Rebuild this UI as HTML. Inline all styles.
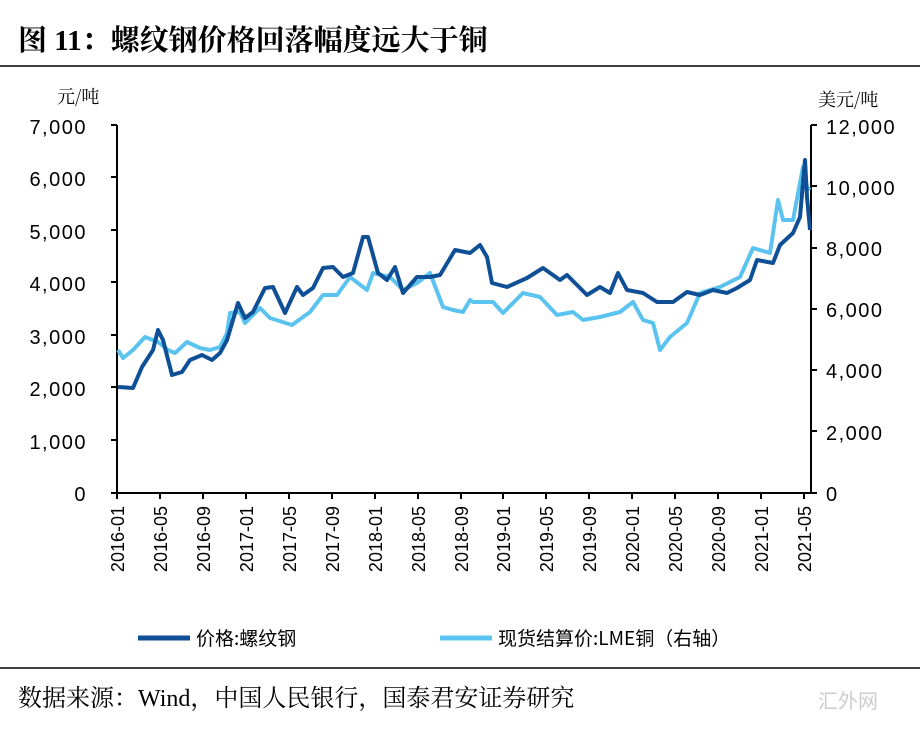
<!DOCTYPE html>
<html><head><meta charset="utf-8"><style>
body{margin:0;width:920px;height:730px;background:#fff;overflow:hidden;font-family:"Liberation Sans","Noto Sans CJK SC",sans-serif}
</style></head><body>
<svg width="920" height="730" xmlns="http://www.w3.org/2000/svg" style="position:absolute;left:0;top:0">
<text x="18" y="50" font-family="Liberation Serif,'Noto Serif CJK SC',serif" font-weight="bold" font-size="29">图 11：螺纹钢价格回落幅度远大于铜</text>
<line x1="0" y1="66" x2="920" y2="66" stroke="#000" stroke-width="1.5"/>
<line x1="0" y1="668" x2="920" y2="668" stroke="#000" stroke-width="1.5"/>
<text x="18" y="706" font-family="Liberation Serif,'Noto Serif CJK SC',serif" font-size="24">数据来源：Wind，中国人民银行，国泰君安证券研究</text>
<text x="818" y="708" font-size="20" fill="#ccc">汇外网</text>
<g font-size="20" fill="#000">
<text x="57" y="103" font-family="'Noto Serif CJK SC',serif" font-size="18">元/吨</text>
<text x="818" y="106" font-family="'Noto Serif CJK SC',serif" font-size="18">美元/吨</text>
<g text-anchor="end" letter-spacing="1.5">
<text x="87" y="134">7,000</text><text x="87" y="186">6,000</text><text x="87" y="239">5,000</text><text x="87" y="291">4,000</text><text x="87" y="344">3,000</text><text x="87" y="396">2,000</text><text x="87" y="449">1,000</text><text x="87" y="501">0</text>
</g>
<g letter-spacing="1.5">
<text x="826" y="134">12,000</text><text x="826" y="195">10,000</text><text x="826" y="256">8,000</text><text x="826" y="317">6,000</text><text x="826" y="378">4,000</text><text x="826" y="440">2,000</text><text x="826" y="501">0</text>
</g>
</g>
<g stroke="#000" stroke-width="2">
<line x1="117" y1="125" x2="117" y2="493"/>
<line x1="811" y1="125" x2="811" y2="493"/>
<line x1="117" y1="493" x2="811" y2="493"/>
<path d="M111 125H117M111 177H117M111 230H117M111 282H117M111 335H117M111 387H117M111 440H117M111 493H117"/>
<path d="M811 125H817M811 186H817M811 248H817M811 309H817M811 370H817M811 431H817M811 493H817"/>
<path d="M117 493V499M160 493V499M203 493V499M246 493V499M289 493V499M332 493V499M375 493V499M418 493V499M461 493V499M503 493V499M546 493V499M589 493V499M632 493V499M675 493V499M718 493V499M761 493V499M804 493V499"/>
</g>
<g font-size="18" text-anchor="end">
<text transform="translate(124,506) rotate(-90)">2016-01</text>
<text transform="translate(167,506) rotate(-90)">2016-05</text>
<text transform="translate(210,506) rotate(-90)">2016-09</text>
<text transform="translate(253,506) rotate(-90)">2017-01</text>
<text transform="translate(296,506) rotate(-90)">2017-05</text>
<text transform="translate(339,506) rotate(-90)">2017-09</text>
<text transform="translate(382,506) rotate(-90)">2018-01</text>
<text transform="translate(425,506) rotate(-90)">2018-05</text>
<text transform="translate(468,506) rotate(-90)">2018-09</text>
<text transform="translate(510,506) rotate(-90)">2019-01</text>
<text transform="translate(553,506) rotate(-90)">2019-05</text>
<text transform="translate(596,506) rotate(-90)">2019-09</text>
<text transform="translate(639,506) rotate(-90)">2020-01</text>
<text transform="translate(682,506) rotate(-90)">2020-05</text>
<text transform="translate(725,506) rotate(-90)">2020-09</text>
<text transform="translate(768,506) rotate(-90)">2021-01</text>
<text transform="translate(811,506) rotate(-90)">2021-05</text>
</g>
<polyline fill="none" stroke="#5bc3ef" stroke-width="4" stroke-linejoin="round" points="118,350 123,358 133,350 145,337 158,342 168,350 175,353 187,342 200,348 210,350 220,347 227,333 230,313 240,312 245,323 260,308 270,318 292,325 310,312 323,295 337,295 350,277 367,290 373,273 390,277 403,290 417,283 430,273 443,307 453,310 463,312 470,300 473,302 493,302 503,313 523,293 540,297 557,315 573,312 583,320 600,317 620,312 633,302 643,320 653,323 660,350 670,337 687,323 700,293 720,287 740,277 753,248 770,253 778,200 783,220 793,220 803,167 807,187 810,190"/>
<polyline fill="none" stroke="#0f4f96" stroke-width="4" stroke-linejoin="round" points="118,387 133,388 142,367 153,350 158,330 163,340 172,375 182,372 190,360 202,355 212,360 220,353 227,340 238,303 245,318 253,312 265,288 273,287 285,313 297,287 303,295 313,288 323,268 333,267 343,277 353,273 363,237 368,237 378,273 387,280 395,267 403,293 417,277 430,277 440,275 455,250 470,253 480,245 487,257 492,283 507,287 527,278 543,268 560,280 567,275 587,295 600,287 610,293 618,273 627,290 643,293 657,302 673,302 687,292 700,295 713,290 727,293 737,288 750,280 757,260 773,263 780,245 793,233 800,217 805,160 807,197 810,230"/>
<line x1="138" y1="638" x2="190" y2="638" stroke="#0f4f96" stroke-width="5"/>
<text x="196" y="645" font-size="19" font-family="'Noto Sans CJK SC',sans-serif">价格:螺纹钢</text>
<line x1="440" y1="638" x2="492" y2="638" stroke="#5bc3ef" stroke-width="5"/>
<text x="498" y="645" font-size="19" font-family="'Noto Sans CJK SC',sans-serif">现货结算价:LME铜（右轴）</text>
</svg>
</body></html>
